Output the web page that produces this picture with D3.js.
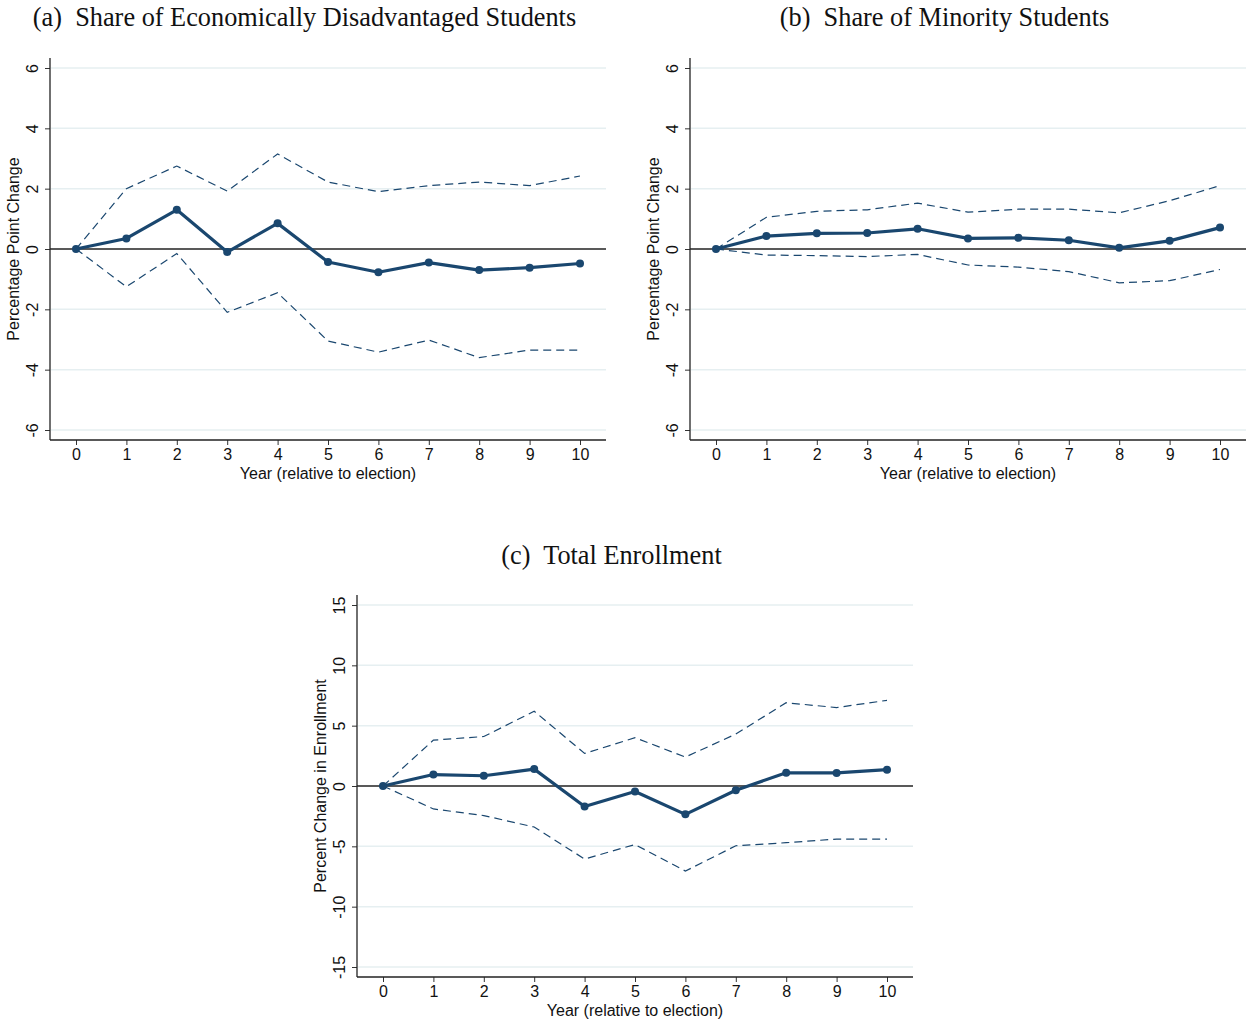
<!DOCTYPE html>
<html>
<head>
<meta charset="utf-8">
<script src="https://d3js.org/d3.v7.min.js"></script>
<style>
  body { margin: 0; background: #fff; }
  .tick text { font-family: "Liberation Sans", Arial, sans-serif; }
</style>
</head>
<body>
<div id="chart"></div>
<script>
// years relative to election
var years = [0, 1, 2, 3, 4, 5, 6, 7, 8, 9, 10];

// (a) economically disadvantaged
var econEst   = [0, 0.35, 1.30, -0.10, 0.85, -0.43, -0.77, -0.45, -0.70, -0.62, -0.48];
var econUpper = [0, 2.00, 2.75, 1.92, 3.15, 2.22, 1.90, 2.10, 2.22, 2.10, 2.42];
var econLower = [0, -1.25, -0.15, -2.10, -1.45, -3.05, -3.42, -3.02, -3.60, -3.35, -3.35];

// (b) minority
var minEst   = [0, 0.43, 0.52, 0.53, 0.67, 0.35, 0.37, 0.29, 0.04, 0.27, 0.71];
var minUpper = [0, 1.05, 1.25, 1.30, 1.52, 1.22, 1.32, 1.32, 1.20, 1.60, 2.10];
var minLower = [0, -0.20, -0.22, -0.25, -0.18, -0.53, -0.60, -0.75, -1.12, -1.05, -0.68];

// (c) enrollment
var enrEst   = [0, 0.95, 0.85, 1.40, -1.70, -0.45, -2.35, -0.35, 1.10, 1.08, 1.35];
var enrUpper = [0, 3.80, 4.10, 6.20, 2.70, 4.00, 2.40, 4.30, 6.90, 6.50, 7.10];
var enrLower = [0, -1.90, -2.45, -3.40, -6.05, -4.85, -7.05, -4.95, -4.70, -4.40, -4.40];

var ticksAB = [-6, -4, -2, 0, 2, 4, 6];
var ticksC  = [-15, -10, -5, 0, 5, 10, 15];

var navy = "#1a476f";
var serif = "'Liberation Serif', 'Times New Roman', serif";
var sans = "'Liberation Sans', Arial, sans-serif";

var svg = d3.select('#chart')
  .append('svg')
  .attr('width', 1247)
  .attr('height', 1019);

function panel(opt) {
  var g = svg.append('g');
  var left = opt.left, top = opt.top;
  var w = 556, h = 382;

  var x = d3.scaleLinear().domain([0, 10]).range([left + 26, left + 530]);
  var yMax = d3.max(opt.ticks);
  var y = d3.scaleLinear().domain([-yMax, yMax]).range([top + h - 10, top + 10]);

  // title
  g.append('text')
    .attr('x', left - 47 + (w + 47) / 2)
    .attr('y', opt.titleY)
    .attr('text-anchor', 'middle')
    .attr('font-family', serif)
    .attr('font-size', 26.3)
    .attr('fill', '#111')
    .attr('xml:space', 'preserve')
    .text(opt.title);

  // gridlines
  g.selectAll('.grid')
    .data(opt.ticks.filter(function(d) { return d !== 0; }))
    .enter()
    .append('line')
    .attr('x1', left + 1).attr('x2', left + w)
    .attr('y1', function(d) { return y(d); })
    .attr('y2', function(d) { return y(d); })
    .attr('stroke', '#e6eff1')
    .attr('stroke-width', 1.5);

  // zero line
  g.append('line')
    .attr('x1', left).attr('x2', left + w)
    .attr('y1', y(0)).attr('y2', y(0))
    .attr('stroke', '#222')
    .attr('stroke-width', 1.5);

  // y axis
  var yAxis = d3.axisLeft(y).tickValues(opt.ticks).tickSize(5).tickSizeOuter(0)
    .tickFormat(function(d) { return String(d); });
  var ya = g.append('g')
    .attr('transform', 'translate(' + left + ',0)')
    .call(yAxis);
  ya.select('.domain').remove();
  ya.selectAll('.tick line').attr('stroke', '#333');
  ya.selectAll('.tick text')
    .attr('font-size', 16)
    .attr('fill', '#111')
    .attr('transform', 'rotate(-90)')
    .attr('x', 0)
    .attr('y', -12)
    .attr('dy', 0)
    .attr('text-anchor', 'middle');
  g.append('line')
    .attr('x1', left).attr('x2', left)
    .attr('y1', top).attr('y2', top + h)
    .attr('stroke', '#222').attr('stroke-width', 1.3);

  // x axis
  var xAxis = d3.axisBottom(x).tickValues(years).tickSize(5).tickSizeOuter(0).tickPadding(4)
    .tickFormat(function(d) { return String(d); });
  var xa = g.append('g')
    .attr('transform', 'translate(0,' + (top + h) + ')')
    .call(xAxis);
  xa.select('.domain').remove();
  xa.selectAll('.tick line').attr('stroke', '#333');
  xa.selectAll('.tick text').attr('font-size', 16).attr('fill', '#111');
  g.append('line')
    .attr('x1', left).attr('x2', left + w)
    .attr('y1', top + h).attr('y2', top + h)
    .attr('stroke', '#222').attr('stroke-width', 1.3);

  // axis titles
  g.append('text')
    .attr('x', x(5))
    .attr('y', top + h + 39)
    .attr('text-anchor', 'middle')
    .attr('font-family', sans)
    .attr('font-size', 16)
    .attr('fill', '#111')
    .text('Year (relative to election)');

  g.append('text')
    .attr('transform', 'translate(' + (left - 31) + ',' + y(0) + ') rotate(-90)')
    .attr('text-anchor', 'middle')
    .attr('font-family', sans)
    .attr('font-size', 16)
    .attr('fill', '#111')
    .text(opt.ytitle);

  var line = d3.line()
    .x(function(d, i) { return x(years[i]); })
    .y(function(d) { return y(d); });

  // confidence bands
  [opt.upper, opt.lower].forEach(function(s) {
    g.append('path')
      .datum(s)
      .attr('d', line)
      .attr('fill', 'none')
      .attr('stroke', navy)
      .attr('stroke-width', 1.2)
      .attr('stroke-dasharray', '8,5');
  });

  // point estimates
  g.append('path')
    .datum(opt.est)
    .attr('d', line)
    .attr('fill', 'none')
    .attr('stroke', navy)
    .attr('stroke-width', 3.2)
    .attr('stroke-linejoin', 'round');

  g.selectAll('.pt')
    .data(opt.est)
    .enter()
    .append('circle')
    .attr('cx', function(d, i) { return x(years[i]); })
    .attr('cy', function(d) { return y(d); })
    .attr('r', 4)
    .attr('fill', navy);
}

panel({
  left: 50, top: 58, titleY: 26,
  title: '(a)  Share of Economically Disadvantaged Students',
  ytitle: 'Percentage Point Change',
  ticks: ticksAB,
  est: econEst, upper: econUpper, lower: econLower
});

panel({
  left: 690, top: 58, titleY: 26,
  title: '(b)  Share of Minority Students',
  ytitle: 'Percentage Point Change',
  ticks: ticksAB,
  est: minEst, upper: minUpper, lower: minLower
});

panel({
  left: 357, top: 595, titleY: 564,
  title: '(c)  Total Enrollment',
  ytitle: 'Percent Change in Enrollment',
  ticks: ticksC,
  est: enrEst, upper: enrUpper, lower: enrLower
});
</script>
</body>
</html>
